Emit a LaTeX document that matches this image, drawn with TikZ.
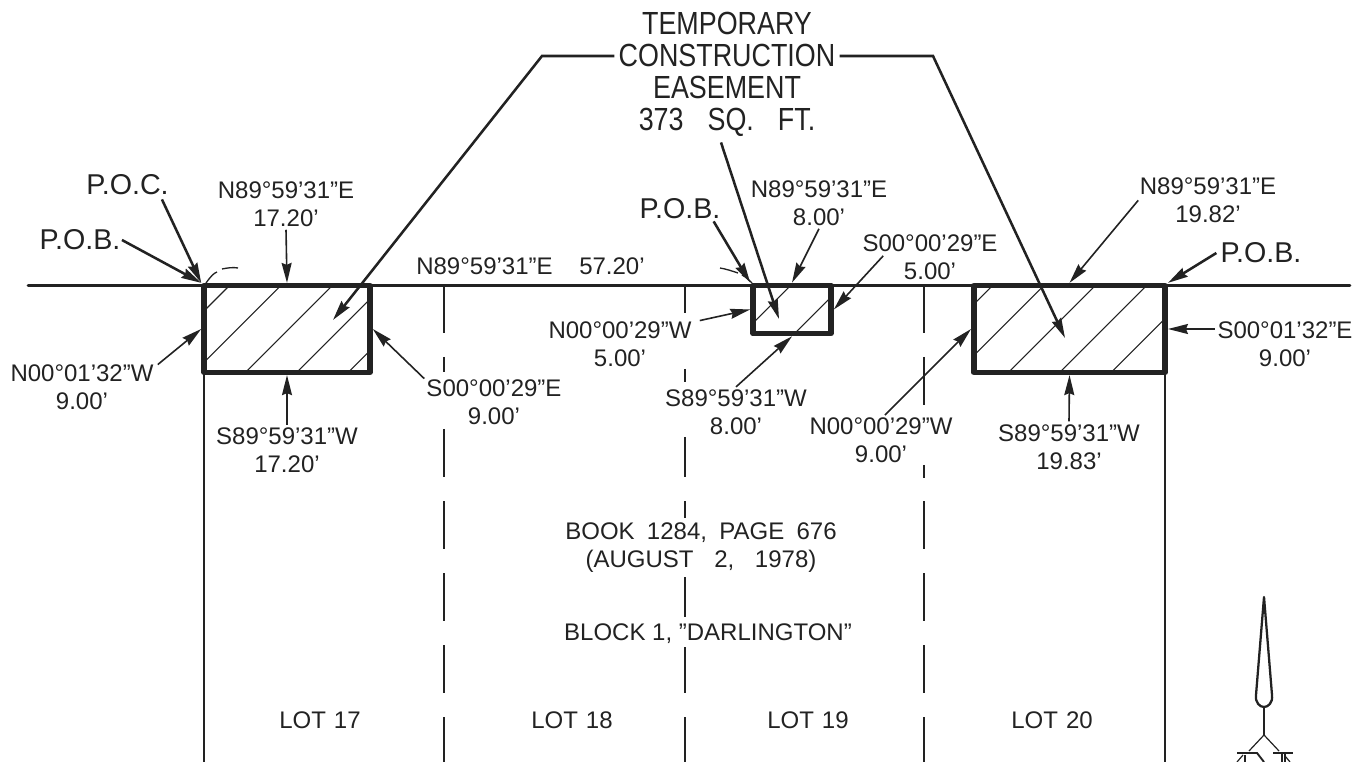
\documentclass[tikz,border=0pt]{standalone}
\usepackage{fontspec}
\setmainfont{Liberation Sans}
\newfontfamily\titlefont[FakeStretch=0.84]{Liberation Sans}
\usetikzlibrary{arrows.meta,calc}
\definecolor{ink}{HTML}{222222}
\tikzset{
  x=0.75pt,y=-0.75pt,
  every node/.style={inner sep=0pt,text=ink},
  lbl/.style={font=\fontsize{18pt}{21pt}\selectfont,align=center,yshift=-1pt},
  big/.style={font=\fontsize{21.5pt}{24pt}\selectfont,align=center},
  ttl/.style={font=\titlefont\fontsize{24pt}{24pt}\selectfont,align=center},
  lot/.style={draw=ink,line width=4.2pt,line join=round,outer sep=auto},
  hatch/.style={draw=ink,line width=0.8pt},
  ld/.style={draw=ink,line width=1.2pt,-{Stealth[length=15pt,width=7.5pt,inset=1.5pt]}},
  hd/.style={draw=ink,line width=1.9pt,-{Stealth[length=15pt,width=7.5pt,inset=1.5pt]}},
  bnd/.style={draw=ink,line width=0.9pt},
  main/.style={draw=ink,line width=2.1pt,line cap=round},
  dd/.style={draw=ink,line width=1pt}
}
\begin{document}
\begin{tikzpicture}
\useasboundingbox (0,0) rectangle (1356,762);
% vertical lot lines
\draw[bnd] (204,372) -- (204,762);
\draw[bnd] (1165,372) -- (1165,762);
\foreach \a/\b in {285/333,357/372,429/477,501/549,573/621,645/693,717/762}
  \draw[bnd] (444,\a) -- (444,\b);
\foreach \a/\b in {285/313,369/382,437/477,501/518,577/617,647/693,717/762}
  \draw[bnd] (685,\a) -- (685,\b);
\foreach \a/\b in {285/333,357/405,465/478,501/549,573/621,645/693,717/762}
  \draw[bnd] (924,\a) -- (924,\b);
% main line
\draw[main] (28,285.5) -- (1350,285.5);
% hatching
\begin{scope}
\clip (204,285) rectangle (370,372);
\foreach \c in {515,566.4,617.8,669.2,720.6}
  \draw[hatch] ({\c-285},285) -- ({\c-372},372);
\end{scope}
\begin{scope}
\clip (753,285) rectangle (831,334);
\foreach \c in {1076,1128}
  \draw[hatch] ({\c-285},285) -- ({\c-334},334);
\end{scope}
\begin{scope}
\clip (974,285) rectangle (1165,372);
\foreach \c in {1278,1329.4,1380.8,1432.2,1483.6}
  \draw[hatch] ({\c-285},285) -- ({\c-372},372);
\end{scope}
% easement rectangles
\node[lot,minimum width=124.5pt,minimum height=65pt] (r1) at (287,329) {};
\node[lot,minimum width=58.5pt,minimum height=36pt] (r2) at (792,309.5) {};
\node[lot,minimum width=143.5pt,minimum height=65pt] (r3) at (1069.5,329) {};
% labels
\node[ttl] (title) at (727,74) {TEMPORARY\\CONSTRUCTION\\EASEMENT\\373\hspace{18pt}SQ.\hspace{18pt}FT.};
\node[big] (poc) at (127.5,185) {P.O.C.};
\node[big] (pobl) at (80,240) {P.O.B.};
\node[big] (pobm) at (680,209) {P.O.B.};
\node[big] (pobr) at (1261,253) {P.O.B.};
\node[lbl] (a) at (286,203) {N89°59'31"E\\17.20'};
\node[lbl] (b) at (287,449) {S89°59'31"W\\17.20'};
\node[lbl] (c) at (82,386) {N00°01'32"W\\9.00'};
\node[lbl] (d) at (494,401) {S00°00'29"E\\9.00'};
\node[lbl] (e) at (530.5,265) {N89°59'31"E\hspace{20pt}57.20'};
\node[lbl] (f) at (819,202) {N89°59'31"E\\8.00'};
\node[lbl] (g) at (930,255.5) {S00°00'29"E\\5.00'};
\node[lbl] (h) at (620,343) {N00°00'29"W\\5.00'};
\node[lbl] (i) at (736,411) {S89°59'31"W\\8.00'};
\node[lbl] (j) at (881,438.5) {N00°00'29"W\\9.00'};
\node[lbl] (k) at (1069,445.5) {S89°59'31"W\\19.83'};
\node[lbl] (l) at (1208,199) {N89°59'31"E\\19.82'};
\node[lbl] (m) at (1285,342.5) {S00°01'32"E\\9.00'};
\node[lbl] (book) at (701,546) {BOOK\hspace{9.25pt}1284,\hspace{9.25pt}PAGE\hspace{9.25pt}676\\(AUGUST\hspace{15.5pt}2,\hspace{15.5pt}1978)};
\node[lbl] (block) at (708,632) {BLOCK\hspace{5pt}1,\hspace{5pt}"DARLINGTON"};
\node[lbl] (l17) at (320,719) {LOT\hspace{6pt}17};
\node[lbl] (l18) at (572,719) {LOT\hspace{6pt}18};
\node[lbl] (l19) at (808,719) {LOT\hspace{6pt}19};
\node[lbl] (l20) at (1052,719) {LOT\hspace{6pt}20};
% free leader points
\coordinate (bendl) at (542,56);
\coordinate (bendr) at (933,56);
\coordinate (tipl) at (333,320);
\coordinate (tipr) at (1065,338);
\coordinate (tipm) at (779,319);
% title leaders
\draw[hd] ([xshift=-3pt]bendl -| title.west) -- (bendl) -- (tipl);
\draw[hd] ([xshift=3pt]bendr -| title.east) -- (bendr) -- (tipr);
\draw[hd] ([shift={(-6,6)}]title.south) -- (tipm);
% heavy leaders
\draw[hd] ([shift={(-7,4)}]poc.south east) -- (r1.north west);
\draw[hd] ([xshift=1pt]pobl.east) -- (r1.north west);
\draw[hd] ([shift={(-7,2)}]pobm.south east) -- (r2.north west);
\draw[hd] ([xshift=-3pt]pobr.west) -- (r3.north east);
% dimension leaders
\draw[ld] ([yshift=-2pt]a.south) -- (r1.north);
\draw[ld] ([yshift=2pt]b.north) -- (r1.south);
\draw[ld] ([xshift=3pt]c.north east) -- (r1.west);
\draw[ld] ([shift={(-2,-1)}]d.north west) -- (r1.east);
\draw[ld] ([yshift=-2pt]f.south) -- (r2.north);
\draw[ld] ([shift={(21,-1)}]g.west) -- (r2.east);
\draw[ld] ([shift={(8,-1)}]h.north east) -- (r2.west);
\draw[ld] ([yshift=2pt]i.north) -- (r2.south);
\draw[ld] ([shift={(4,-2)}]j.north) -- (r3.west);
\draw[ld] ([yshift=2pt]k.north) -- (r3.south);
\draw[ld] ([xshift=-1pt]l.west) -- (r3.north);
\draw[ld] ([xshift=-2pt]r3.east -| m.west) -- (r3.east);
% dash-dot curves
\draw[dd] (206,283) .. controls (211,276) and (214,273) .. (217,272);
\draw[dd] (222,269) .. controls (227,268) and (233,267) .. (238,268);
\draw[dd] (720,268) .. controls (726,269) and (732,271) .. (738,273);
\draw[dd] (742,275) .. controls (746,277) and (749,280) .. (752,283);
% north arrow
\draw[draw=ink,line width=1.7pt,line join=round] (1264,597) -- (1256,695)
  .. controls (1255,703) and (1260,707) .. (1264,707)
  .. controls (1268,707) and (1273,703) .. (1272,695) -- cycle;
\draw[draw=ink,line width=1.7pt] (1264,707) -- (1264,735);
\draw[bnd] (1249,751) -- (1264,735) -- (1279,751);
\draw[draw=ink,line width=1.4pt] (1237,753) -- (1257,753) -- (1264,762);
\draw[draw=ink,line width=1.4pt] (1273,753) -- (1293,753);
\draw[bnd] (1243,755) -- (1237,762);
\draw[bnd] (1245,755) -- (1245,762);
\draw[bnd] (1282,754) -- (1282,762);
\draw[bnd] (1285,754) -- (1285,762);
\draw[bnd] (1285,756) -- (1290,762);
\end{tikzpicture}
\end{document}
